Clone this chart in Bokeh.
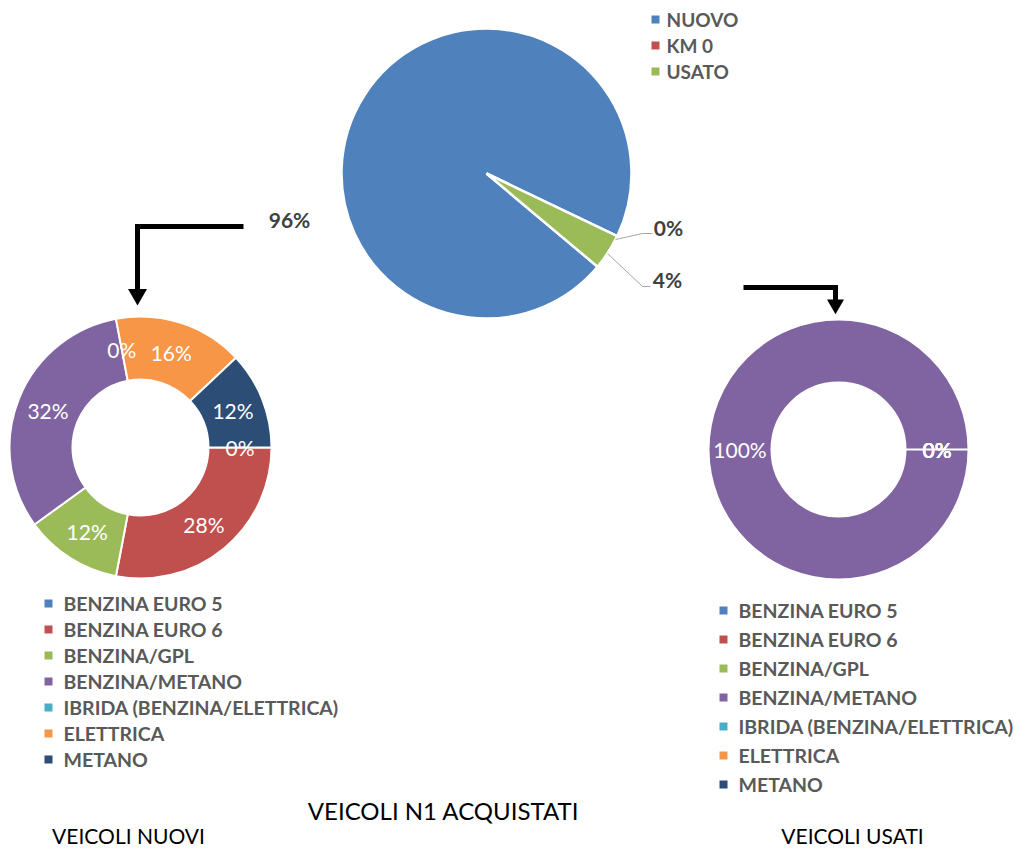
import math
from bokeh.plotting import figure
from bokeh.models import Range1d, ColumnDataSource
from bokeh.core.properties import value
from bokeh.embed import file_html
from bokeh.resources import INLINE

# ---------------- data ----------------
pie_labels = ["NUOVO", "KM 0", "USATO"]
pie_values = [96, 0, 4]
pie_colors = ["#4F81BD", "#C0504D", "#9BBB59"]

fuel_types = ["BENZINA EURO 5", "BENZINA EURO 6", "BENZINA/GPL", "BENZINA/METANO",
              "IBRIDA (BENZINA/ELETTRICA)", "ELETTRICA", "METANO"]
fuel_colors = ["#4F81BD", "#C0504D", "#9BBB59", "#8064A2", "#4BACC6", "#F79646", "#2C4D75"]
new_values = [0, 28, 12, 32, 0, 16, 12]
used_values = [0, 0, 0, 100, 0, 0, 0]

title_main = "VEICOLI N1 ACQUISTATI"
title_new = "VEICOLI NUOVI"
title_used = "VEICOLI USATI"

# ---------------- layout helpers ----------------
W, H = 1016, 852
FONT = value("Lato")


def P(X, Y):
    """page pixel -> data coords (y up)"""
    return X, H - Y


def std(c):
    """clockwise-from-top degrees -> standard radians"""
    return math.radians(90 - c)


p = figure(width=W, height=H, x_range=Range1d(0, W), y_range=Range1d(0, H),
           output_backend="svg", toolbar_location=None, min_border=0)
p.axis.visible = False
p.grid.visible = False
p.outline_line_color = None
p.background_fill_color = "white"


def slices(values, rot):
    tot = float(sum(values))
    starts, ends, mids, keep = [], [], [], []
    c = rot
    for v in values:
        d = 360.0 * v / tot
        starts.append(std(c + d))
        ends.append(std(c))
        mids.append(c + d / 2)
        keep.append(v > 0)
        c += d
    return starts, ends, mids, keep


def wedge_source(x0, y0, s, e, cols, keep):
    idx = [i for i, k in enumerate(keep) if k]
    return ColumnDataSource(dict(x=[x0] * len(idx), y=[y0] * len(idx),
                                 s=[s[i] for i in idx], e=[e[i] for i in idx],
                                 c=[cols[i] for i in idx]))


# ---------------- top pie ----------------
cx, cy = P(486, 173)
s, e, m, k = slices(pie_values, 130)
p.wedge(x="x", y="y", radius=145, start_angle="s", end_angle="e", fill_color="c",
        line_color="white", line_width=2.5, source=wedge_source(cx, cy, s, e, pie_colors, k))

# leader lines
lx1 = [P(615, 239), P(642, 233), P(652, 233)]
lx2 = [P(607, 253), P(642, 286), P(650, 286)]
p.line([a for a, b in lx1], [b for a, b in lx1], line_color="#A6A6A6", line_width=1)
p.line([a for a, b in lx2], [b for a, b in lx2], line_color="#A6A6A6", line_width=1)

pie_pos = [P(289, 219), P(668, 227), P(667, 279)]
p.text(x=[a for a, b in pie_pos], y=[b for a, b in pie_pos],
       text=[f"{v}%" for v in pie_values], text_font=FONT, text_font_style="bold",
       text_font_size="21px", text_color="#404040", text_align="center",
       text_baseline="middle")

# top legend
lg = [P(655, 19 + 26 * i) for i in range(3)]
p.scatter(x=[a for a, b in lg], y=[b for a, b in lg], marker="square", size=8,
          fill_color=pie_colors, line_color=None)
p.text(x=[a + 11 for a, b in lg], y=[b for a, b in lg], text=pie_labels,
       text_font=FONT, text_font_style="bold", text_font_size="19px",
       text_color="#595959", text_align="left", text_baseline="middle")


# ---------------- donuts ----------------
def donut(center, ro, ri, values):
    x0, y0 = P(*center)
    s, e, m, k = slices(values, 90)
    p.annular_wedge(x="x", y="y", inner_radius=ri, outer_radius=ro, start_angle="s",
                    end_angle="e", fill_color="c", line_color="white", line_width=2,
                    source=wedge_source(x0, y0, s, e, fuel_colors, k))
    r = (ro + ri) / 2
    tx = [x0 + r * math.cos(std(c)) for c in m]
    ty = [y0 + r * math.sin(std(c)) for c in m]
    p.text(x=tx, y=ty, text=[f"{v}%" for v in values], text_font=FONT,
           text_font_size="21px", text_color="white", text_align="center",
           text_baseline="middle")


donut((140, 447), 131, 68, new_values)
donut((838, 449), 130, 67, used_values)


def legend(x_sq, y0, dy):
    pts = [P(x_sq, y0 + dy * i) for i in range(len(fuel_types))]
    p.scatter(x=[a for a, b in pts], y=[b for a, b in pts], marker="square", size=8,
              fill_color=fuel_colors, line_color=None)
    p.text(x=[a + 15 for a, b in pts], y=[b for a, b in pts], text=fuel_types,
           text_font=FONT, text_font_style="bold", text_font_size="19.5px",
           text_color="#595959", text_align="left", text_baseline="middle")


legend(48, 603, 26.0)
legend(723, 610, 29.0)

# ---------------- arrows ----------------
a1 = [P(243, 226), P(137, 226), P(137, 290)]
p.line([a for a, b in a1], [b for a, b in a1], line_color="black", line_width=5,
       line_join="miter")
hx, hy = P(137, 294)
p.scatter([hx], [hy], marker="inverted_triangle", size=19, fill_color="black",
          line_color=None)
a2 = [P(743, 287), P(835, 287), P(835, 300)]
p.line([a for a, b in a2], [b for a, b in a2], line_color="black", line_width=5,
       line_join="miter")
hx, hy = P(835, 304)
p.scatter([hx], [hy], marker="inverted_triangle", size=17, fill_color="black",
          line_color=None)

# ---------------- titles ----------------
tx_, ty_ = P(443, 810)
p.text(x=[tx_], y=[ty_], text=[title_main], text_font=FONT, text_font_size="24px",
       text_color="black", text_align="center", text_baseline="middle")
tp = [P(128, 835), P(852, 835)]
p.text(x=[a for a, b in tp], y=[b for a, b in tp], text=[title_new, title_used],
       text_font=FONT, text_font_size="21px", text_color="black", text_align="center",
       text_baseline="middle")

open("out.html", "w").write(file_html(p, INLINE))
